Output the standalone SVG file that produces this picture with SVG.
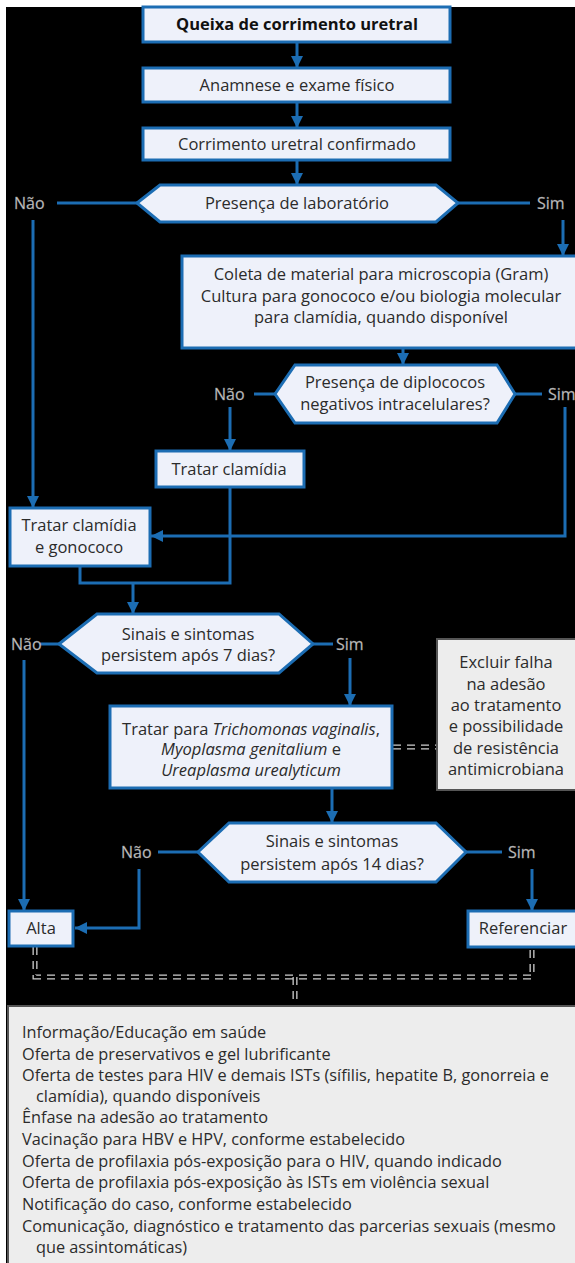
<svg xmlns="http://www.w3.org/2000/svg" width="575" height="1263" viewBox="0 0 575 1263">
<style>
.bg{fill:#000}
.box{fill:#eef1fa;stroke:#1c6db3;stroke-width:3}
.gbox{fill:#ededed;stroke:#555;stroke-width:2}
.t{font-family:"Open Sans","Noto Sans",sans-serif;font-size:16.5px;fill:#2b2b2b;text-anchor:middle}
.b{font-weight:bold;fill:#111}
.lbl{font-family:"Open Sans","Noto Sans",sans-serif;font-size:16px;fill:#c8c8c8;stroke:#888;stroke-width:0.3}
.lst{font-family:"Open Sans","Noto Sans",sans-serif;font-size:16.3px;fill:#2b2b2b}
.c{fill:none;stroke:#1c6db3;stroke-width:3}
.ca{fill:none;stroke:#1c6db3;stroke-width:3;marker-end:url(#ah)}
.d1{fill:none;stroke:#cfcfcf;stroke-width:5;stroke-dasharray:8 6}
.d2{fill:none;stroke:#000;stroke-width:2.4;stroke-dasharray:8 6}
</style>
<defs>
<marker id="ah" viewBox="0 0 12 12" refX="12" refY="6" markerWidth="12" markerHeight="12" markerUnits="userSpaceOnUse" orient="auto">
<path d="M0,0 L12,6 L0,12 z" fill="#1c6db3"/>
</marker>
</defs>
<rect x="0" y="0" width="575" height="1263" fill="#fff"/>
<rect class="bg" x="6" y="7" width="569" height="1256"/>

<g id="connectors">
<line class="ca" x1="297" y1="42" x2="297" y2="68"/>
<line class="ca" x1="297" y1="102" x2="297" y2="128"/>
<line class="ca" x1="297" y1="160" x2="297" y2="185"/>
<line class="c" x1="137" y1="203" x2="57" y2="203"/>
<line class="c" x1="458" y1="203" x2="530" y2="203"/>
<line class="ca" x1="33" y1="220" x2="33" y2="508"/>
<line class="ca" x1="563" y1="220" x2="563" y2="256"/>
<line class="ca" x1="403" y1="348" x2="403" y2="365"/>
<line class="c" x1="275" y1="394" x2="254" y2="394"/>
<line class="c" x1="515" y1="394" x2="542" y2="394"/>
<line class="ca" x1="230" y1="407" x2="230" y2="451"/>
<polyline class="ca" points="565,407 565,536 151,536"/>
<polyline class="c" points="230,487 230,583 80,583 80,566"/>
<line class="ca" x1="133" y1="583" x2="133" y2="614"/>
<line class="c" x1="59" y1="644" x2="40" y2="644"/>
<line class="c" x1="313" y1="644" x2="333" y2="644"/>
<line class="ca" x1="24" y1="660" x2="24" y2="911"/>
<line class="ca" x1="350" y1="658" x2="350" y2="706"/>
<line class="d1" x1="393" y1="747" x2="437" y2="747"/>
<line class="d2" x1="393" y1="747" x2="437" y2="747"/>
<line class="ca" x1="332" y1="788" x2="332" y2="823"/>
<line class="c" x1="198" y1="852" x2="158" y2="852"/>
<line class="c" x1="466" y1="852" x2="502" y2="852"/>
<polyline class="ca" points="139,869 139,928 75,928"/>
<line class="ca" x1="532" y1="869" x2="532" y2="911"/>
<polyline class="d1" points="35,947 35,977 532,977 532,948"/>
<polyline class="d2" points="35,947 35,977 532,977 532,948"/>
<line class="d1" x1="295" y1="977" x2="295" y2="1006"/>
<line class="d2" x1="295" y1="977" x2="295" y2="1006"/>
</g>

<g id="n1"><rect class="box" x="143" y="7" width="307" height="35"/><text class="t b" x="297" y="30">Queixa de corrimento uretral</text></g>
<g id="n2"><rect class="box" x="143" y="68" width="307" height="34"/><text class="t" x="297" y="91">Anamnese e exame físico</text></g>
<g id="n3"><rect class="box" x="143" y="128" width="307" height="32"/><text class="t" x="297" y="150">Corrimento uretral confirmado</text></g>
<g id="d1"><polygon class="box" points="137,203 160,185 436,185 458,203 436,222 160,222"/><text class="t" x="297" y="209">Presença de laboratório</text>
<text class="lbl" x="14" y="209">Não</text><text class="lbl" x="537" y="209">Sim</text></g>
<g id="n4"><rect class="box" x="182" y="256" width="400" height="92"/>
<text class="t" x="381" y="280">Coleta de material para microscopia (Gram)</text>
<text class="t" x="381" y="301.5">Cultura para gonococo e/ou biologia molecular</text>
<text class="t" x="381" y="323">para clamídia, quando disponível</text></g>
<g id="d2"><polygon class="box" points="275,394 295,365 497,365 515,394 497,423 295,423"/>
<text class="t" x="395" y="388">Presença de diplococos</text>
<text class="t" x="395" y="409.5">negativos intracelulares?</text>
<text class="lbl" x="214" y="400">Não</text><text class="lbl" x="548" y="400">Sim</text></g>
<g id="n5"><rect class="box" x="156" y="451" width="148" height="36"/><text class="t" x="229" y="474.5">Tratar clamídia</text></g>
<g id="n6"><rect class="box" x="10" y="508" width="140" height="58"/>
<text class="t" x="79" y="531">Tratar clamídia</text><text class="t" x="79" y="552.5">e gonococo</text></g>
<g id="d3"><polygon class="box" points="59,644 97,614 279,614 313,644 279,673 97,673"/>
<text class="t" x="188" y="639.5">Sinais e sintomas</text>
<text class="t" x="188" y="660.5">persistem após 7 dias?</text>
<text class="lbl" x="11" y="650">Não</text><text class="lbl" x="336" y="650">Sim</text></g>
<g id="n7"><rect class="box" x="110" y="706" width="282" height="82"/>
<text class="t" x="251" y="734.5">Tratar para <tspan font-style="italic">Trichomonas vaginalis</tspan>,</text>
<text class="t" x="251" y="755"><tspan font-style="italic">Myoplasma genitalium</tspan> e</text>
<text class="t" x="251" y="775.5"><tspan font-style="italic">Ureaplasma urealyticum</tspan></text></g>
<g id="n8"><rect class="gbox" x="437" y="639" width="145" height="151"/>
<text class="t" x="506" y="668">Excluir falha</text>
<text class="t" x="506" y="689.5">na adesão</text>
<text class="t" x="506" y="711">ao tratamento</text>
<text class="t" x="506" y="732">e possibilidade</text>
<text class="t" x="506" y="753.5">de resistência</text>
<text class="t" x="506" y="775">antimicrobiana</text></g>
<g id="d4"><polygon class="box" points="198,852 229,823 436,823 466,852 436,882 229,882"/>
<text class="t" x="332" y="847">Sinais e sintomas</text>
<text class="t" x="332" y="870">persistem após 14 dias?</text>
<text class="lbl" x="121" y="858">Não</text><text class="lbl" x="508" y="858">Sim</text></g>
<g id="n9"><rect class="box" x="9" y="911" width="64" height="35"/><text class="t" x="41" y="934">Alta</text></g>
<g id="n10"><rect class="box" x="468" y="911" width="114" height="36"/><text class="t" x="523" y="934">Referenciar</text></g>
<g id="n11"><rect class="gbox" x="8" y="1006" width="580" height="270"/>
<text class="lst" x="22" y="1038">Informação/Educação em saúde</text>
<text class="lst" x="22" y="1060">Oferta de preservativos e gel lubrificante</text>
<text class="lst" x="22" y="1081">Oferta de testes para HIV e demais ISTs (sífilis, hepatite B, gonorreia e</text>
<text class="lst" x="36" y="1102">clamídia), quando disponíveis</text>
<text class="lst" x="22" y="1123">Ênfase na adesão ao tratamento</text>
<text class="lst" x="22" y="1145">Vacinação para HBV e HPV, conforme estabelecido</text>
<text class="lst" x="22" y="1167">Oferta de profilaxia pós-exposição para o HIV, quando indicado</text>
<text class="lst" x="22" y="1188">Oferta de profilaxia pós-exposição às ISTs em violência sexual</text>
<text class="lst" x="22" y="1210">Notificação do caso, conforme estabelecido</text>
<text class="lst" x="22" y="1232">Comunicação, diagnóstico e tratamento das parcerias sexuais (mesmo</text>
<text class="lst" x="36" y="1253">que assintomáticas)</text></g>
</svg>
